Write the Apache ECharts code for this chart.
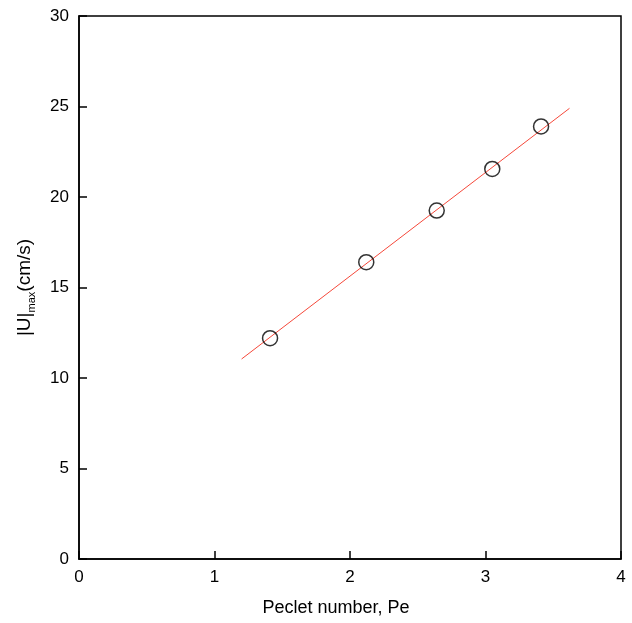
<!DOCTYPE html>
<html>
<head>
<meta charset="utf-8">
<script src="https://cdn.jsdelivr.net/npm/echarts@6/dist/echarts.min.js"></script>
<style>
  html, body { margin: 0; padding: 0; background: #fff; }
  #chart { width: 632px; height: 623px; }
</style>
</head>
<body>
<div id="chart"></div>
<script>
// measured points
const peclet = [1.41, 2.12, 2.64, 3.05, 3.41]
const uMax = [12.2, 16.4, 19.25, 21.55, 23.9]
// linear fit line ends
const fitX = [1.2, 3.62]
const fitY = [11.05, 24.9]

const font = 'Liberation Sans, Arial, sans-serif'

const chart = echarts.init(document.getElementById('chart'))
chart.setOption({
  animation: false,
  grid: {
    left: 79, right: 11, top: 16, bottom: 64,
    show: true, borderColor: '#000', borderWidth: 1.5
  },
  xAxis: {
    type: 'value', min: 0, max: 4, interval: 1,
    name: 'Peclet number, Pe', nameLocation: 'middle', nameGap: 40,
    nameTextStyle: { fontFamily: font, fontSize: 18, color: '#000', padding: [0, 28, 0, 0] },
    axisLine: { lineStyle: { color: '#000', width: 1.5 } },
    axisTick: { inside: true, length: 8, lineStyle: { color: '#000', width: 1.5 } },
    axisLabel: { fontFamily: font, fontSize: 17, color: '#000', margin: 10 },
    splitLine: { show: false }
  },
  yAxis: {
    type: 'value', min: 0, max: 30, interval: 5,
    name: '{a||U|}{s|max}{a|(cm/s)}', nameLocation: 'middle', nameGap: 42,
    nameTextStyle: {
      rich: {
        a: { fontFamily: font, fontSize: 19, color: '#000', lineHeight: 24, verticalAlign: 'middle' },
        s: { fontFamily: font, fontSize: 11, color: '#000', lineHeight: 24, verticalAlign: 'bottom', padding: [10, 0, 0, 0] }
      }
    },
    axisLine: { lineStyle: { color: '#000', width: 1.5 } },
    axisTick: { inside: true, length: 8, lineStyle: { color: '#000', width: 1.5 } },
    axisLabel: { fontFamily: font, fontSize: 17, color: '#000', margin: 10 },
    splitLine: { show: false }
  },
  series: [
    {
      type: 'line',
      data: fitX.map((x, i) => [x, fitY[i]]),
      symbol: 'none',
      lineStyle: { color: '#f5483a', width: 1 },
      z: 1
    },
    {
      type: 'scatter',
      data: peclet.map((x, i) => [x, uMax[i]]),
      symbol: 'circle',
      symbolSize: 15,
      itemStyle: { color: 'rgba(0,0,0,0)', borderColor: '#000', borderWidth: 1.5 },
      z: 2
    }
  ]
})
</script>
</body>
</html>
